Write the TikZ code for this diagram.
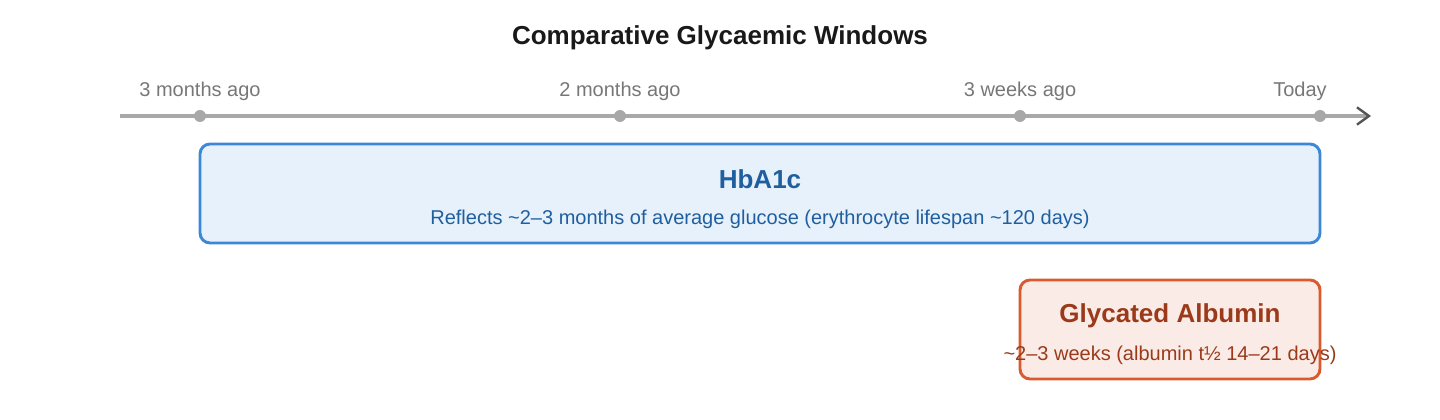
\documentclass[tikz,border=0pt]{standalone}
\usepackage{fontspec}
\setmainfont{Liberation Sans}
\usetikzlibrary{arrows.meta}
\definecolor{axisgrey}{HTML}{A8A8A8}
\definecolor{labelgrey}{HTML}{777777}
\definecolor{tipgrey}{HTML}{555555}
\definecolor{hbline}{HTML}{3B88D8}
\definecolor{hbfill}{HTML}{E7F1FB}
\definecolor{hbtext}{HTML}{1F5FA0}
\definecolor{gaDraw}{HTML}{D95A2E}
\definecolor{gaFill}{HTML}{FBEBE6}
\definecolor{gaText}{HTML}{9B3A1A}
\tikzset{
  tick/.style={circle, fill=axisgrey, inner sep=0pt, minimum size=9pt},
  ticklabel/.style={text=labelgrey, font=\fontsize{15}{18}\selectfont},
  window/.style={rounded corners=7.5pt, line width=2.2pt, inner sep=0pt},
  head/.style={font=\fontsize{19.5}{23}\selectfont\bfseries},
  sub/.style={font=\fontsize{15}{18}\selectfont}
}
\begin{document}
\begin{tikzpicture}[x=0.75pt, y=-0.75pt]
  \useasboundingbox (0,0) rectangle (1440,420);

  \node[font=\fontsize{19.5}{23}\selectfont\bfseries, text=black!90] (title) at (720,37.5) {Comparative Glycaemic Windows};

  % timeline
  \coordinate (start) at (120,116);
  \coordinate (end) at (1371,116);
  \draw[axisgrey, line width=2.4pt, -{Straight Barb[length=9pt, width=13pt, line width=1.8pt, color=tipgrey]}] (start) -- (end);

  \node[tick] (t3m) at (200,116) {};
  \node[tick] (t2m) at (620,116) {};
  \node[tick] (t3w) at (1020,116) {};
  \node[tick] (t0) at (1320,116) {};

  \node[ticklabel] at (200,91) {3 months ago};
  \node[ticklabel] at (620,91) {2 months ago};
  \node[ticklabel] at (1020,91) {3 weeks ago};
  \node[ticklabel] at (1300,91) {Today};

  % HbA1c window
  \draw[window, draw=hbline, fill=hbfill] (200,144) rectangle (1320,243);
  \node[head, text=hbtext] (hba) at (760,179.5) {HbA1c};
  \node[sub, text=hbtext] (hbasub) at (760,219) {Reflects \textasciitilde2–3 months of average glucose (erythrocyte lifespan \textasciitilde120 days)};

  % glycated albumin window
  \draw[window, draw=gaDraw, fill=gaFill] (1020,280) rectangle (1320,379);
  \node[head, text=gaText] (ga) at (1170,315.5) {Glycated Albumin};
  \node[sub, text=gaText] (gasub) at (1170,355) {\textasciitilde2–3 weeks (albumin t½ 14–21 days)};
\end{tikzpicture}
\end{document}
